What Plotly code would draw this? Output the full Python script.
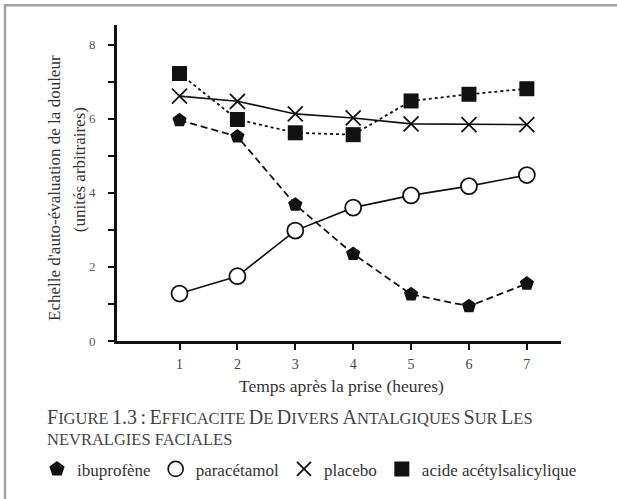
import plotly.graph_objects as go

hours = [1, 2, 3, 4, 5, 6, 7]
ibuprofene = [5.96, 5.52, 3.68, 2.35, 1.26, 0.94, 1.55]
paracetamol = [1.28, 1.75, 2.98, 3.6, 3.93, 4.18, 4.48]
placebo = [6.61, 6.47, 6.13, 6.02, 5.86, 5.84, 5.84]
aspirine = [7.22, 5.98, 5.62, 5.57, 6.48, 6.66, 6.81]

y_ticks = [0, 1, 2, 3, 4, 5, 6, 7, 8]
y_ticktext = ["0", "", "2", "", "4", "", "6", "", "8"]

FONT = "Liberation Serif"
INK = "#111111"

fig = go.Figure()

fig.add_trace(go.Scatter(
    x=hours, y=aspirine, mode="lines+markers", showlegend=False,
    line=dict(color=INK, width=1.8, dash="dot"),
    marker=dict(symbol="square", size=15, color=INK)))
fig.add_trace(go.Scatter(
    x=hours, y=placebo, mode="lines+markers", showlegend=False,
    line=dict(color=INK, width=1.6),
    marker=dict(symbol="x-thin-open", size=15, color=INK, line=dict(width=1.8, color=INK))))
fig.add_trace(go.Scatter(
    x=hours, y=ibuprofene, mode="lines+markers", showlegend=False,
    line=dict(color=INK, width=1.8, dash="7px,4px"),
    marker=dict(symbol="pentagon", size=15, color=INK)))
fig.add_trace(go.Scatter(
    x=hours, y=paracetamol, mode="lines+markers", showlegend=False,
    line=dict(color=INK, width=1.6),
    marker=dict(symbol="circle", size=16, color="white", line=dict(width=1.8, color=INK))))

# legend-only entries (symbols without lines)
legend_items = [
    ("ibuprofène", dict(symbol="pentagon", size=16, color=INK)),
    ("paracétamol", dict(symbol="circle", size=15, color="white", line=dict(width=1.6, color=INK))),
    ("placebo", dict(symbol="x-thin-open", size=14, color=INK, line=dict(width=1.8, color=INK))),
    ("acide acétylsalicylique", dict(symbol="square", size=15, color=INK)),
]
for name, mk in legend_items:
    fig.add_trace(go.Scatter(x=[None], y=[None], mode="markers", name=name, marker=mk))

def smallcaps(text, big=20, small=16.5):
    out = []
    for word in text.split(" "):
        if word and word[0].isalpha():
            out.append(f"<span style='font-size:{big}px'>{word[0]}</span>"
                       f"<span style='font-size:{small}px'>{word[1:]}</span>")
        else:
            out.append(f"<span style='font-size:{big}px'>{word}</span>")
    return " ".join(out)

caption1 = smallcaps("FIGURE 1.3 : EFFICACITE DE DIVERS ANTALGIQUES SUR LES")
caption2 = "<span style='font-size:16.5px'>NEVRALGIES FACIALES</span>"

L, R, T, B = 117, 56, 25, 154
W, H = 617, 499
pw, ph = W - L - R, H - T - B

def px(x):
    return (x - L) / pw

def py(y):
    return (H - B - y) / ph

fig.update_layout(
    width=W, height=H,
    margin=dict(l=L, r=R, t=T, b=B),
    paper_bgcolor="white", plot_bgcolor="white",
    font=dict(family=FONT, color="#333333", size=14),
    showlegend=True,
    legend=dict(orientation="h", x=px(37), y=py(475), xanchor="left", yanchor="middle",
                font=dict(family=FONT, size=17, color="#333333"),
                itemwidth=30, tracegroupgap=0, bgcolor="rgba(0,0,0,0)"),
    xaxis=dict(range=[-0.08, 7.59], tickvals=hours, ticktext=[str(h) for h in hours],
               showgrid=False, zeroline=False, showline=True, linecolor=INK, linewidth=3,
               ticks="outside", ticklen=6, tickwidth=2, tickcolor=INK,
               tickfont=dict(family=FONT, size=14, color="#444444"), ticklabelstandoff=2),
    yaxis=dict(range=[0, 8.53], tickvals=y_ticks, ticktext=y_ticktext,
               showgrid=False, zeroline=False, showline=True, linecolor=INK, linewidth=3,
               ticks="outside", ticklen=6, tickwidth=2, tickcolor=INK,
               tickfont=dict(family=FONT, size=13, color="#555555"), ticklabelstandoff=10),
    shapes=[dict(type="rect", xref="paper", yref="paper",
                 x0=px(5), x1=px(640), y0=py(520), y1=py(5),
                 line=dict(color="#a0a0a0", width=2.5), fillcolor="rgba(0,0,0,0)", layer="below")],
    annotations=[
        dict(text="Echelle d'auto-évaluation de la douleur", textangle=-90,
             xref="paper", yref="paper", x=px(55), y=py(190), showarrow=False,
             xanchor="center", yanchor="middle",
             font=dict(family=FONT, size=17, color="#333333")),
        dict(text="(unités arbitraires)", textangle=-90,
             xref="paper", yref="paper", x=px(79), y=py(172), showarrow=False,
             xanchor="center", yanchor="middle",
             font=dict(family=FONT, size=17, color="#333333")),
        dict(text="Temps après la prise (heures)",
             xref="paper", yref="paper", x=px(341), y=py(391), showarrow=False,
             xanchor="center", yanchor="middle",
             font=dict(family=FONT, size=17.5, color="#333333")),
        dict(text=caption1, xref="paper", yref="paper", x=px(45), y=py(422),
             xanchor="left", yanchor="middle", showarrow=False,
             font=dict(family=FONT, color="#444444")),
        dict(text=caption2, xref="paper", yref="paper", x=px(45), y=py(445),
             xanchor="left", yanchor="middle", showarrow=False,
             font=dict(family=FONT, color="#444444")),
    ],
)

fig.write_html("out.html", config={"displayModeBar": False},
               post_script="document.body.style.margin='0px';")
